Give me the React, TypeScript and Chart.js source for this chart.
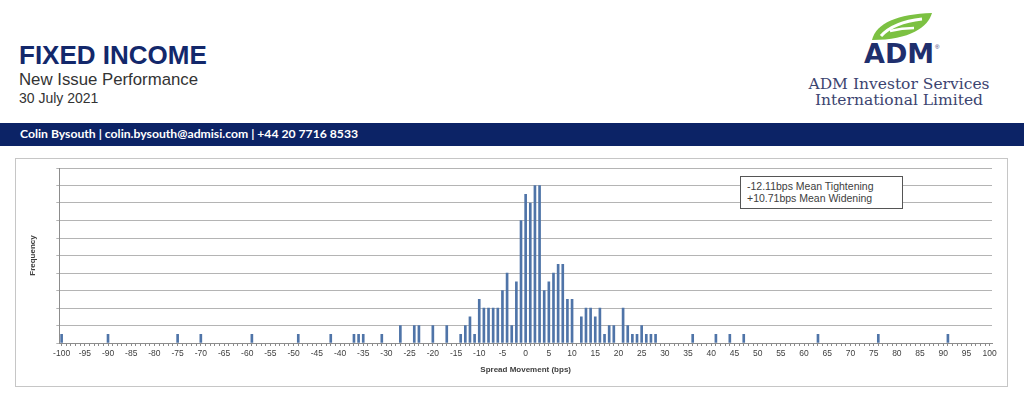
import React, { useEffect, useRef } from "react";
import { Chart, registerables } from "chart.js";

Chart.register(...registerables);

// Spread movement buckets (bps) that have at least one new issue, and their frequencies
const spreadBps: number[] = [
  -100, -90, -75, -70, -59, -49, -42,
  -37, -36, -35, -31,
  -27, -24, -23, -20, -17,
  -14, -13, -12, -11, -10,
  -9, -8, -7, -6, -5,
  -4, -3, -2, -1, 0,
  1, 2, 3, 4, 5,
  6, 7, 8, 9, 10,
  12, 13, 14, 15, 16,
  17, 18, 19, 21, 22,
  23, 24, 25, 26, 27,
  28, 36, 41, 44, 47,
  63, 76, 91,
];
const frequency: number[] = [
  1, 1, 1, 1, 1, 1, 1,
  1, 1, 1, 1,
  2, 2, 2, 2, 2,
  1, 2, 3, 1, 5,
  4, 4, 4, 4, 6,
  8, 2, 7, 14, 17,
  16, 18, 18, 6, 7,
  8, 9, 9, 5, 5,
  3, 4, 4, 3, 4,
  1, 2, 2, 4, 2,
  1, 1, 2, 1, 1,
  1, 1, 1, 1, 1,
  1, 1, 1,
];
// Category axis: every basis point from -100 to +100
const axisMin = -100;
const axisMax = 100;
const categories: string[] = Array.from({ length: axisMax - axisMin + 1 }, (_, i) => String(axisMin + i));
const yMax = 20;
const yStep = 2;
const noteLines: string[] = ["-12.11bps Mean Tightening", "+10.71bps Mean Widening"];

const BAR_COLOR = "#4f74a8";
const NAVY = "#13286b";
const SANS = "'Liberation Sans', Arial, sans-serif";

function HistogramChart() {
  const ref = useRef<HTMLCanvasElement | null>(null);
  useEffect(() => {
    if (!ref.current) return;
    const lookup = new Map<string, number>();
    spreadBps.forEach((b, i) => lookup.set(String(b), frequency[i]));
    const values = categories.map((c) => (lookup.has(c) ? (lookup.get(c) as number) : null));
    const chart = new Chart(ref.current, {
      type: "bar",
      data: {
        labels: categories,
        datasets: [
          {
            data: values,
            backgroundColor: BAR_COLOR,
            borderWidth: 0,
            barThickness: 2,
          },
        ],
      },
      options: {
        animation: false,
        responsive: false,
        maintainAspectRatio: false,
        layout: { padding: { top: 9, right: 15, left: 0, bottom: 0 } },
        plugins: { legend: { display: false }, tooltip: { enabled: false } },
        scales: {
          x: {
            offset: true,
            grid: {
              drawOnChartArea: false,
              drawTicks: true,
              tickLength: 3,
              color: "#8c8c8c",
              offset: false,
            },
            border: { color: "#8c8c8c" },
            ticks: {
              autoSkip: false,
              maxRotation: 0,
              minRotation: 0,
              padding: 3,
              color: "#404040",
              font: { family: SANS, size: 8.5 },
              callback: (_v: any, i: number) => (Number(categories[i]) % 5 === 0 ? categories[i] : ""),
            },
            title: {
              display: true,
              text: "Spread Movement (bps)",
              color: "#404040",
              font: { family: SANS, size: 8, weight: "bold" },
              padding: { top: 0, bottom: 11 },
            },
            afterFit: (s: any) => {
              s.height = 43;
            },
          },
          y: {
            min: 0,
            max: yMax,
            ticks: { stepSize: yStep, display: false },
            grid: { color: "#b4b4b4", tickLength: 3, drawTicks: true },
            border: { color: "#8c8c8c" },
            title: {
              display: true,
              text: "Frequency",
              color: "#404040",
              font: { family: SANS, size: 8, weight: "bold" },
              padding: { top: 12, bottom: 0 },
            },
            afterFit: (s: any) => {
              s.width = 43.3;
            },
          },
        },
      },
    } as any);
    return () => chart.destroy();
  }, []);
  return (
    <canvas
      ref={ref}
      width={991}
      height={227}
      style={{ position: "absolute", left: 16, top: 159, width: 991, height: 227 }}
    />
  );
}

export default function App() {
  return (
    <div
      style={{
        position: "absolute",
        left: 0,
        top: 0,
        width: 1024,
        height: 397,
        background: "#ffffff",
        overflow: "hidden",
        fontFamily: SANS,
      }}
    >
      <div style={{ position: "absolute", left: 19, top: 42, fontSize: 26, lineHeight: "26px", fontWeight: "bold", color: NAVY, whiteSpace: "nowrap" }}>
        FIXED INCOME
      </div>
      <div style={{ position: "absolute", left: 19, top: 71.5, fontSize: 16.8, lineHeight: "16.8px", color: "#333", whiteSpace: "nowrap" }}>
        New Issue Performance
      </div>
      <div style={{ position: "absolute", left: 19, top: 90.5, fontSize: 14, lineHeight: "14px", color: "#333", whiteSpace: "nowrap" }}>
        30 July 2021
      </div>

      {/* Logo */}
      <svg style={{ position: "absolute", left: 868, top: 11 }} width={66} height={31} viewBox="0 0 66 31">
        <path d="M 4 29 C 8 12, 30 3, 64 2 C 60 16, 42 29, 4 29 Z" fill="#7cc142" />
        <path d="M 13 25 C 22 15, 36 10, 54 8" stroke="#ffffff" strokeWidth={3} fill="none" />
        <path d="M 22 20 C 30 18, 38 17, 46 17" stroke="#ffffff" strokeWidth={2.5} fill="none" />
      </svg>
      <div style={{ position: "absolute", left: 864, top: 40, fontFamily: "'DejaVu Sans', sans-serif", fontWeight: "bold", fontSize: 27, lineHeight: "27px", color: "#1f2f6d", whiteSpace: "nowrap" }}>
        ADM
      </div>
      <div style={{ position: "absolute", left: 935, top: 44, fontSize: 6, lineHeight: "6px", color: "#1f2f6d" }}>®</div>
      <div style={{ position: "absolute", left: 799, width: 200, top: 76, textAlign: "center", fontFamily: "'DejaVu Serif', serif", fontSize: 15.5, lineHeight: "16px", color: "#3c4470", whiteSpace: "nowrap" }}>
        ADM Investor Services
        <br />
        International Limited
      </div>

      {/* Contact banner */}
      <div style={{ position: "absolute", left: 0, top: 123, width: 1024, height: 23, background: "#0c2366" }} />
      <div style={{ position: "absolute", left: 20, top: 127, fontFamily: "Lato, sans-serif", fontWeight: "bold", fontSize: 12.2, lineHeight: "14px", color: "#ffffff", whiteSpace: "nowrap" }}>
        Colin Bysouth | colin.bysouth@admisi.com | +44 20 7716 8533
      </div>

      {/* Chart frame */}
      <div style={{ position: "absolute", left: 15, top: 158, width: 993, height: 229, border: "1px solid #c6c6c6", boxSizing: "border-box" }} />
      <HistogramChart />

      {/* Note box */}
      <div
        style={{
          position: "absolute",
          left: 740,
          top: 176,
          width: 163,
          height: 33,
          boxSizing: "border-box",
          border: "1px solid #555",
          background: "#fff",
          padding: "3px 0 0 6px",
          fontSize: 10.5,
          lineHeight: "12px",
          color: "#404040",
          whiteSpace: "nowrap",
        }}
      >
        {noteLines.map((l) => (
          <div key={l}>{l}</div>
        ))}
      </div>
    </div>
  );
}
